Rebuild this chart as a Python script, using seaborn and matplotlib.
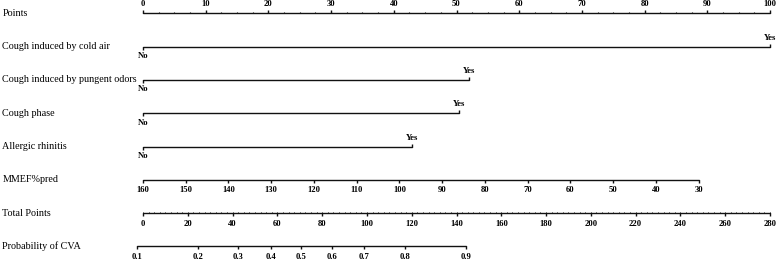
import numpy as np
import pandas as pd
import matplotlib
matplotlib.use("Agg")
import matplotlib.pyplot as plt
import seaborn as sns

# nomogram values
point_ticks = [0, 10, 20, 30, 40, 50, 60, 70, 80, 90, 100]
binary_names = ["Cough induced by cold air", "Cough induced by pungent odors",
                "Cough phase", "Allergic rhinitis"]
binary_yes_points = [100, 52.0, 50.4, 42.9]
mmef_ticks = [160, 150, 140, 130, 120, 110, 100, 90, 80, 70, 60, 50, 40, 30]
mmef_max_points = 88.6
total_ticks = [0, 20, 40, 60, 80, 100, 120, 140, 160, 180, 200, 220, 240, 260, 280]
prob_labels = ["0.1", "0.2", "0.3", "0.4", "0.5", "0.6", "0.7", "0.8", "0.9"]
prob_total_points = [-2.9, 24.4, 42.3, 57.2, 70.5, 84.3, 98.8, 117.0, 144.1]

sns.set_theme(style="white")
plt.rcParams['font.family'] = ['Liberation Serif', 'DejaVu Serif']
plt.rcParams['text.color'] = 'black'

fig = plt.figure(figsize=(7.77, 2.61), dpi=100)
ax = fig.add_axes([0, 0, 1, 1])
ax.set_xlim(-143 / 6.27, (777 - 143) / 6.27)
ax.set_ylim(261, 0)
ax.axis('off')

line_col = '#111111'
row_y = [13.3 + 33.3 * i for i in range(8)]
lab_kw = dict(fontsize=7.3, va='center', ha='left', color='black',
              transform=ax.get_yaxis_transform())
tick_kw = dict(fontsize=6.2, fontweight='bold', ha='center', va='center', color='black')
tp_scale = 100 / 280

# build a long table of row segments and draw them with seaborn
seg = [("Points", 0, 100), ]
for name, yes in zip(binary_names, binary_yes_points):
    seg.append((name, 0, yes))
seg.append(("MMEF%pred", 0, mmef_max_points))
seg.append(("Total Points", 0, total_ticks[-1] * tp_scale))
seg.append(("Probability of CVA", prob_total_points[0] * tp_scale,
            prob_total_points[-1] * tp_scale))
rows = []
for i, (name, a, b) in enumerate(seg):
    rows.append({"row": name, "x": a, "y": row_y[i]})
    rows.append({"row": name, "x": b, "y": row_y[i]})
df = pd.DataFrame(rows)
sns.lineplot(data=df, x="x", y="y", units="row", estimator=None, color=line_col,
             lw=1.0, ax=ax, legend=False, sort=False)

for i, (name, a, b) in enumerate(seg):
    ax.text(0.003, row_y[i], name, **lab_kw)

# Points axis: ticks up, labels above
y0 = row_y[0]
minor = np.arange(0, 100.1, 2.5)
ax.vlines(minor, y0 - 1.6, y0, color=line_col, lw=0.8)
ax.vlines(point_ticks, y0 - 3, y0, color=line_col, lw=1.0)
for t in point_ticks:
    ax.text(t, y0 - 9, str(t), **tick_kw)

# binary predictors
for i, yes in enumerate(binary_yes_points):
    y = row_y[i + 1]
    ax.vlines(0, y, y + 3, color=line_col, lw=1.0)
    ax.vlines(yes, y - 3, y, color=line_col, lw=1.0)
    ax.text(0, y + 9.5, "No", **tick_kw)
    ax.text(yes, y - 9, "Yes", **tick_kw)

# MMEF%pred
y = row_y[5]
mmef_pos = [(160 - v) / (160 - 30) * mmef_max_points for v in mmef_ticks]
ax.vlines(mmef_pos, y, y + 3, color=line_col, lw=1.0)
for v, p in zip(mmef_ticks, mmef_pos):
    ax.text(p, y + 10.5, str(v), **tick_kw)

# Total points
y = row_y[6]
tminor = np.arange(0, 280.1, 2.5) * tp_scale
ax.vlines(tminor, y - 1.6, y, color=line_col, lw=0.7)
tpos = [t * tp_scale for t in total_ticks]
ax.vlines(tpos, y, y + 3, color=line_col, lw=1.0)
for t, p in zip(total_ticks, tpos):
    ax.text(p, y + 10.5, str(t), **tick_kw)

# Probability
y = row_y[7]
ppos = [t * tp_scale for t in prob_total_points]
ax.vlines(ppos, y, y + 3, color=line_col, lw=1.0)
for lab, p in zip(prob_labels, ppos):
    ax.text(p, y + 10.5, lab, **tick_kw)

fig.savefig("out.png", dpi=100)
